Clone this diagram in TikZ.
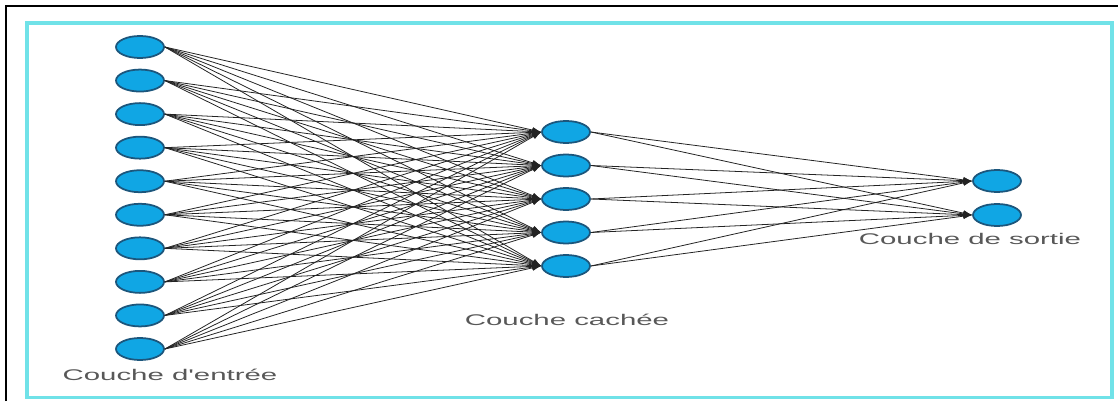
\documentclass[tikz,border=0pt]{standalone}
\usepackage{fontspec}
\setsansfont{Liberation Sans}
\usetikzlibrary{arrows.meta,shapes.geometric}
\definecolor{CND}{RGB}{16,166,228}
\definecolor{CNB}{RGB}{28,86,124}
\definecolor{CED}{RGB}{35,35,35}
\definecolor{CTX}{RGB}{88,88,88}
\definecolor{CFR}{RGB}{112,226,232}

\tikzset{
  neuron/.style={ellipse,draw=CNB,fill=CND,line width=1pt,minimum width=0.96cm,minimum height=0.44cm,inner sep=0pt},
  edge/.style={CED,line width=0.45pt,-{Latex[length=5pt,width=3.4pt]}},
  lbl/.style={font=\sffamily\fontsize{8.8}{10}\selectfont,text=CTX,xscale=1.9,transform shape,inner sep=0pt,anchor=base}
}

\begin{document}
\begin{tikzpicture}
  \useasboundingbox (0cm,0cm) rectangle (22.3600cm,8.0200cm);
  \draw[black,line width=1.1pt] (0.1200cm,0.0000cm) -- (0.1200cm,7.9000cm) -- (22.3600cm,7.9000cm);
  \draw[CFR,line width=2pt] (0.5400cm,0.0700cm) rectangle (22.2400cm,7.5600cm);
  % couche d'entree
  \node[neuron] (in1) at (2.8000cm,7.0800cm) {};
  \node[neuron] (in2) at (2.8000cm,6.4089cm) {};
  \node[neuron] (in3) at (2.8000cm,5.7378cm) {};
  \node[neuron] (in4) at (2.8000cm,5.0667cm) {};
  \node[neuron] (in5) at (2.8000cm,4.3956cm) {};
  \node[neuron] (in6) at (2.8000cm,3.7244cm) {};
  \node[neuron] (in7) at (2.8000cm,3.0533cm) {};
  \node[neuron] (in8) at (2.8000cm,2.3822cm) {};
  \node[neuron] (in9) at (2.8000cm,1.7111cm) {};
  \node[neuron] (in10) at (2.8000cm,1.0400cm) {};
  % couche cachee
  \node[neuron] (hc1) at (11.3200cm,5.3800cm) {};
  \node[neuron] (hc2) at (11.3200cm,4.7100cm) {};
  \node[neuron] (hc3) at (11.3200cm,4.0400cm) {};
  \node[neuron] (hc4) at (11.3200cm,3.3700cm) {};
  \node[neuron] (hc5) at (11.3200cm,2.7000cm) {};
  % couche de sortie
  \node[neuron] (out1) at (19.9400cm,4.4000cm) {};
  \node[neuron] (out2) at (19.9400cm,3.7200cm) {};
  % liaisons
  \foreach \i in {1,...,10}
    \foreach \j in {1,...,5}
      \draw[edge] (in\i.east) -- (hc\j.west);
  \foreach \j in {1,...,5}
    \foreach \k in {1,2}
      \draw[edge] (hc\j.east) -- (out\k.west);
  \node[lbl] (lin) at (3.4000cm,0.4000cm) {Couche d\textquotesingle entrée};
  \node[lbl] (lhc) at (11.3400cm,1.5200cm) {Couche cachée};
  \node[lbl] (lout) at (19.4000cm,3.1200cm) {Couche de sortie};
\end{tikzpicture}
\end{document}
